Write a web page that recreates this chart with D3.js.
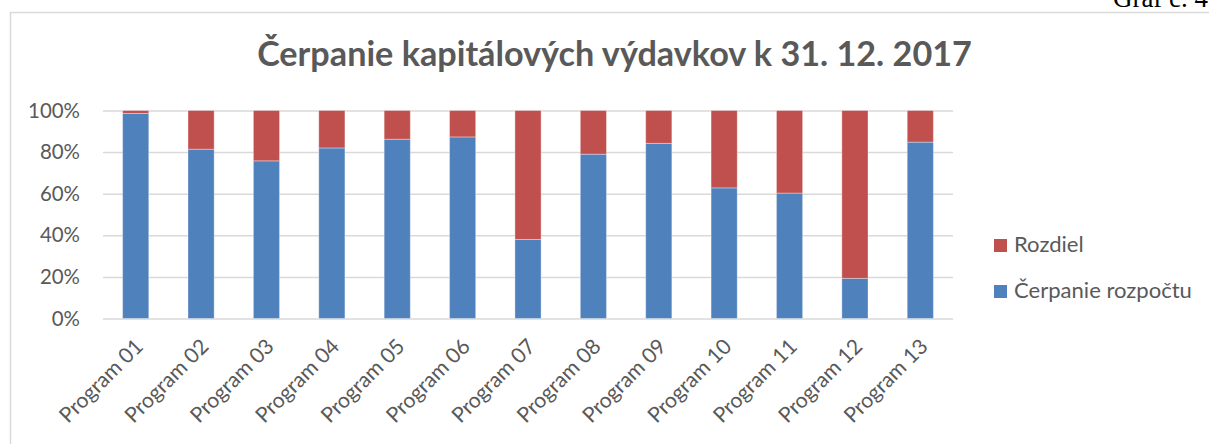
<!DOCTYPE html>
<html><head><meta charset="utf-8">
<script src="https://cdn.jsdelivr.net/npm/d3@7"></script>
<style>
html,body{margin:0;padding:0;background:#fff;}
svg{display:block;}
</style></head>
<body>
<script>
// ---- data ----
const programs = ["Program 01","Program 02","Program 03","Program 04","Program 05","Program 06","Program 07","Program 08","Program 09","Program 10","Program 11","Program 12","Program 13"];
const cerpanie = [98.6, 81.4, 75.8, 82.0, 86.2, 87.3, 38.0, 79.0, 84.2, 62.8, 60.3, 19.3, 84.8];
const rozdiel  = [1.4, 18.6, 24.2, 18.0, 13.8, 12.7, 62.0, 21.0, 15.8, 37.2, 39.7, 80.7, 15.2];
const seriesNames = ["Čerpanie rozpočtu","Rozdiel"];
const yTicks = [0, 0.2, 0.4, 0.6, 0.8, 1.0];
const titleText = "Čerpanie kapitálových výdavkov k 31. 12. 2017";
const captionText = "Graf č. 4";

const W = 1209, H = 444;
const colors = {"Čerpanie rozpočtu":"#4f81bd","Rozdiel":"#c0504d"};
const textColor = "#595959";
const font = "Lato, 'Open Sans', sans-serif";

const svg = d3.select("body").append("svg").attr("width",W).attr("height",H);
svg.append("rect").attr("width",W).attr("height",H).attr("fill","#fff");

function fit(sel, target){
  const base = 20;
  sel.attr("font-size", base);
  const w = sel.node().getComputedTextLength();
  const fs = base*target/w;
  sel.attr("font-size", fs);
  return fs;
}

// caption (clipped at top, as in the reference)
const cap = svg.append("text").attr("x",1113).attr("y",7)
  .attr("font-family","'Liberation Serif','Times New Roman',serif")
  .attr("fill","#000").text(captionText);
fit(cap, 95);

// chart border
svg.append("path").attr("d",`M10.5,${H+5}V12.5H${W+5}`)
  .attr("fill","none").attr("stroke","#d9d9d9").attr("stroke-width",1.5);

// title
const title = svg.append("text").attr("x",614.5).attr("y",66)
  .attr("text-anchor","middle").attr("font-family",font).attr("font-weight","bold")
  .attr("fill",textColor).text(titleText);
fit(title, 715);

// scales
const x = d3.scaleBand().domain(programs).range([103,953]).paddingInner(0.6).paddingOuter(0.3);
const y = d3.scaleLinear().domain([0,1]).range([318.5,110.5]);

// data table
const table = programs.map((p,i)=>({program:p,"Čerpanie rozpočtu":cerpanie[i],"Rozdiel":rozdiel[i]}));
const stacked = d3.stack().keys(seriesNames).offset(d3.stackOffsetExpand)(table);

// y axis labels font size
const probe = svg.append("text").attr("font-family",font).text("100%");
const axisFs = fit(probe, 52);
probe.remove();
const probe2 = svg.append("text").attr("font-family",font).text("Program 01");
const xFs = fit(probe2, 108);
probe2.remove();

// gridlines + y axis
const yAxis = d3.axisLeft(y).tickValues(yTicks).tickFormat(d3.format(".0%"))
  .tickSize(-(953-103)).tickPadding(23);
const gy = svg.append("g").attr("transform","translate(103,0)").call(yAxis);
gy.select(".domain").remove();
gy.selectAll(".tick line").attr("stroke","#d9d9d9").attr("stroke-width",1.5);
gy.selectAll(".tick text").attr("fill",textColor).attr("font-family",font).attr("font-size",axisFs);

// bars
svg.append("g").selectAll("g").data(stacked).join("g")
  .attr("fill",d=>colors[d.key])
  .selectAll("rect").data(d=>d).join("rect")
  .attr("x",d=>x(d.data.program))
  .attr("width",x.bandwidth())
  .attr("y",d=>y(d[1]))
  .attr("height",d=>y(d[0])-y(d[1]))
  .attr("stroke","rgba(255,255,255,0.35)").attr("stroke-width",1);

// x axis labels
const xAxis = d3.axisBottom(x).tickSize(0).tickPadding(0);
const gx = svg.append("g").attr("transform","translate(0,337)").call(xAxis);
gx.select(".domain").remove();
gx.selectAll(".tick text")
  .attr("fill",textColor).attr("font-family",font).attr("font-size",xFs)
  .attr("text-anchor","end").attr("dy","0.72em").attr("y",0).attr("x",0)
  .attr("transform","translate(-2,0) rotate(-45)");

// legend
const legendItems = [{k:"Rozdiel",y:239},{k:"Čerpanie rozpočtu",y:285}];
const lg = svg.append("g");
lg.selectAll("rect").data(legendItems).join("rect")
  .attr("x",994).attr("y",d=>d.y).attr("width",13).attr("height",13)
  .attr("fill",d=>colors[d.k]);
const lt = lg.selectAll("text").data(legendItems).join("text")
  .attr("x",1014).attr("y",d=>d.y+13).attr("font-family",font)
  .attr("fill",textColor).text(d=>d.k);
const legFs = fit(lt.filter(d=>d.k==="Čerpanie rozpočtu"), 178);
lt.attr("font-size",legFs);
</script>
</body></html>
